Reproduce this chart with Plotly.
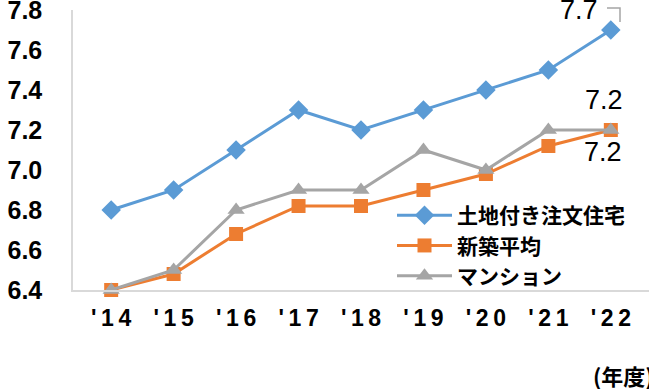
import plotly.graph_objects as go

years = ["'14", "'15", "'16", "'17", "'18", "'19", "'20", "'21", "'22"]
tick_text = ["'\u20091\u20094", "'\u20091\u20095", "'\u20091\u20096", "'\u20091\u20097", "'\u20091\u20098",
             "'\u20091\u20099", "'\u20092\u20090", "'\u20092\u20091", "'\u20092\u20092"]
y_ticks = [6.4, 6.6, 6.8, 7.0, 7.2, 7.4, 7.6, 7.8]
land_house = [6.8, 6.9, 7.1, 7.3, 7.2, 7.3, 7.4, 7.5, 7.7]
new_avg = [6.4, 6.48, 6.68, 6.82, 6.82, 6.9, 6.98, 7.12, 7.2]
mansion = [6.4, 6.5, 6.8, 6.9, 6.9, 7.1, 7.0, 7.2, 7.2]
names = ["土地付き注文住宅", "新築平均", "マンション"]

fig = go.Figure()
fig.add_trace(go.Scatter(x=years, y=land_house, name=names[0], mode="lines+markers",
                         line=dict(color="#5B9BD5", width=3),
                         marker=dict(symbol="diamond", size=15, color="#5B9BD5"),
                         cliponaxis=False))
fig.add_trace(go.Scatter(x=years, y=new_avg, name=names[1], mode="lines+markers",
                         line=dict(color="#ED7D31", width=3),
                         marker=dict(symbol="square", size=14, color="#ED7D31"),
                         cliponaxis=False))
fig.add_trace(go.Scatter(x=years, y=mansion, name=names[2], mode="lines+markers",
                         line=dict(color="#A5A5A5", width=3),
                         marker=dict(symbol="triangle-up", size=15, color="#A5A5A5"),
                         cliponaxis=False))

label_font = dict(family="Liberation Sans Narrow, Arial Narrow, Arial", size=27, color="black")
fig.add_annotation(x=years[-1], y=land_house[-1], text=f"{land_house[-1]:.1f}", showarrow=False,
                   xshift=-32, yshift=20, font=label_font, yanchor="middle")
fig.add_annotation(x=years[-1], y=new_avg[-1], text=f"{new_avg[-1]:.1f}", showarrow=False,
                   xshift=-7, yshift=30, font=label_font, yanchor="middle")
fig.add_annotation(x=years[-1], y=mansion[-1], text=f"{mansion[-1]:.1f}", showarrow=False,
                   xshift=-8, yshift=-22, font=label_font, yanchor="middle")
fig.add_shape(type="path", xref="paper", yref="paper",
              path=f"M {(607 - 73) / 576},{(290 - 8) / 280} L {(620 - 73) / 576},{(290 - 8) / 280} "
                   f"L {(620 - 73) / 576},{(290 - 22) / 280}",
              line=dict(color="#A5A5A5", width=1.5))

fig.add_annotation(xref="paper", yref="paper", x=(591 - 73) / 576, y=-(375 - 290) / 280,
                   text="(年度)", showarrow=False, xanchor="left", yanchor="middle",
                   font=dict(family="Noto Sans CJK JP", size=22, color="black", weight="bold"))

fig.update_layout(
    width=649, height=389,
    margin=dict(l=73, r=0, t=10, b=99, autoexpand=False),
    plot_bgcolor="white", paper_bgcolor="white",
    showlegend=True,
    legend=dict(x=(392 - 73) / 576, y=(290 - 195) / 280, xanchor="left", yanchor="top",
                bgcolor="rgba(0,0,0,0)", itemwidth=55, tracegroupgap=0,
                font=dict(family="Noto Sans CJK JP", size=21, color="black", weight="bold")),
)
fig.update_xaxes(type="category", tickvals=years, ticktext=tick_text, showgrid=False,
                 showline=True, linecolor="#D9D9D9", linewidth=1.5, ticks="", automargin=False,
                 tickfont=dict(family="Liberation Sans Narrow, Arial Narrow, Arial", size=23,
                               color="black", weight="bold"),
                 ticklabelstandoff=7)
fig.update_yaxes(range=[6.4, 7.8], tickvals=y_ticks, ticktext=[f"{v:.1f}" for v in y_ticks],
                 showgrid=False, ticklabeloverflow="allow", automargin=False,
                 showline=True, linecolor="#D9D9D9", linewidth=1.5, ticks="", zeroline=False,
                 tickfont=dict(family="Liberation Sans Narrow, Arial Narrow, Arial", size=25,
                               color="black", weight="bold"),
                 ticklabelstandoff=24)

fig.write_html("out.html")
